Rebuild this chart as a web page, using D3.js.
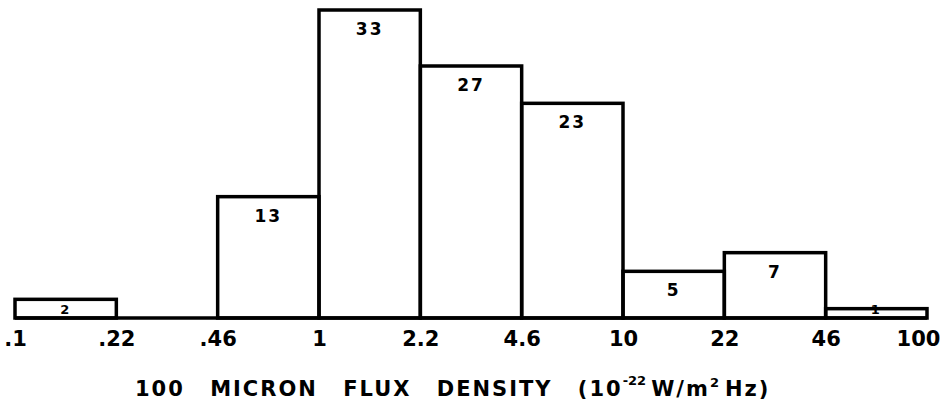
<!DOCTYPE html>
<html lang="en">
	<head>
		<title>100 micron flux density histogram</title>
		<script src="https://d3js.org/d3.v7.min.js"></script>
		<style>
			body { margin: 0; background: #fff; }
			text { font-family: "DejaVu Sans", sans-serif; font-weight: bold; fill: #000; }
		</style>
	</head>
	<body>
		<div id="chart"></div>
		<script>

			// bin edges (flux, 10^-22 W/m^2 Hz) and counts per bin
			var edges = [".1", ".22", ".46", "1", "2.2", "4.6", "10", "22", "46", "100"];
			var counts = [2, 0, 13, 33, 27, 23, 5, 7, 1];
			var axisTitle = "100 MICRON FLUX DENSITY";

			var data = counts.map(function(c, i) { return {x0: edges[i], x1: edges[i + 1], count: c}; });

			var width = 945, height = 414;
			var margin = {top: 10, right: 18, bottom: 96, left: 15};

			var svg = d3.select("#chart").append("svg")
				.attr("width", width)
				.attr("height", height);

			var x = d3.scalePoint()
				.domain(edges)
				.range([margin.left, width - margin.right]);

			var y = d3.scaleLinear()
				.domain([0, 33])
				.range([height - margin.bottom, margin.top]);

			// bars
			svg.append("g")
				.selectAll("rect")
				.data(data.filter(d => d.count > 0))
				.join("rect")
					.attr("x", d => x(d.x0))
					.attr("y", d => y(d.count))
					.attr("width", d => x(d.x1) - x(d.x0))
					.attr("height", d => y(0) - y(d.count))
					.attr("fill", "none")
					.attr("stroke", "#000")
					.attr("stroke-width", 3.5);

			// baseline
			svg.append("line")
				.attr("x1", x(edges[0])).attr("x2", x(edges[edges.length - 1]))
				.attr("y1", y(0)).attr("y2", y(0))
				.attr("stroke", "#000").attr("stroke-width", 3.5);

			// counts inside bars
			svg.append("g")
				.selectAll("text")
				.data(data.filter(d => d.count > 0))
				.join("text")
					.attr("x", d => (x(d.x0) + x(d.x1)) / 2)
					.attr("y", d => d.count < 3 ? y(0) - 4 : y(d.count) + 25)
					.attr("text-anchor", "middle")
					.attr("font-size", d => d.count < 3 ? 13 : 17)
					.attr("letter-spacing", 2)
					.text(d => d.count);

			// x axis labels
			var xAxis = g => g
				.attr("transform", `translate(0,${y(0)})`)
				.call(d3.axisBottom(x).tickSize(0).tickPadding(13))
				.call(g => g.select(".domain").remove())
				.call(g => g.selectAll("text")
					.attr("font-size", 21)
					.attr("font-family", "DejaVu Sans")
					.attr("font-weight", "bold")
					.attr("fill", "#000"))
				.call(g => g.selectAll(".tick:last-of-type text").attr("dx", -9));

			svg.append("g").call(xAxis);

			// axis title
			var title = svg.append("text")
				.attr("x", 135)
				.attr("y", 396)
				.attr("font-size", 21)
				.attr("letter-spacing", 2)
				.attr("word-spacing", 16);
			title.append("tspan").text(axisTitle + " (10");
			title.append("tspan").attr("font-size", 13).attr("dy", -11).attr("letter-spacing", 0).text("-22");
			title.append("tspan").attr("dy", 11).attr("dx", 5).text("W/m");
			title.append("tspan").attr("font-size", 13).attr("dy", -9).text("2");
			title.append("tspan").attr("dy", 9).attr("dx", 4).text("Hz)");

		</script>
	</body>
</html>
